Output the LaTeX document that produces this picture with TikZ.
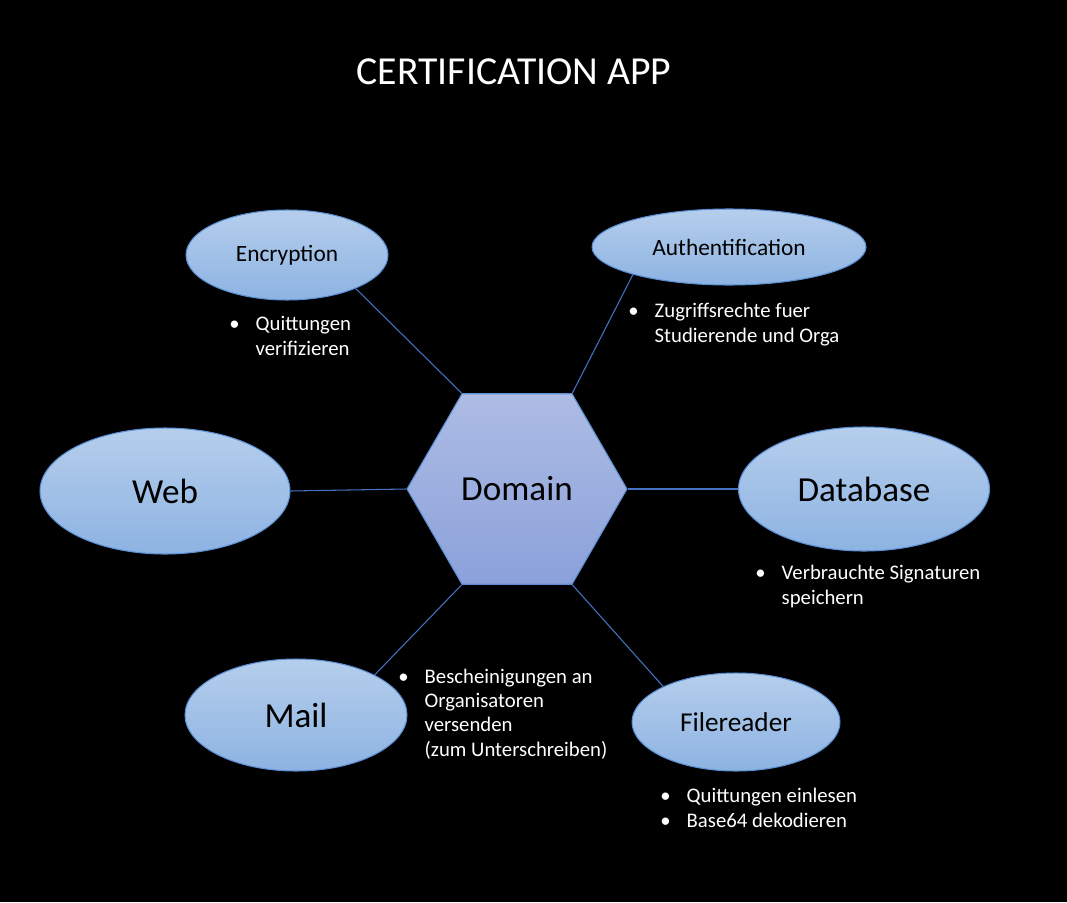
\documentclass[tikz,border=0pt]{standalone}
\usepackage{fontspec}
\setmainfont{Carlito}
\usetikzlibrary{shapes.geometric}
\definecolor{ovaltop}{HTML}{B5CEEC}
\definecolor{ovalbot}{HTML}{8DB3E2}
\definecolor{hextop}{HTML}{ADBCE4}
\definecolor{hexbot}{HTML}{8BA1DA}
\definecolor{rim}{HTML}{5B8FD4}
\definecolor{link}{HTML}{4472C4}
\newcommand{\bul}{\makebox[15pt][l]{\textbullet}}
\newcommand{\ind}{\hspace*{15pt}}

\begin{document}
\begin{tikzpicture}[x=0.02cm, y=-0.02cm,
  oval/.style={ellipse, draw=rim, line width=0.6pt, top color=ovaltop, bottom color=ovalbot, inner sep=0pt, text=black},
  note/.style={anchor=base west, inner sep=0pt, text=white, align=left, font=\fontsize{11.8}{13.8}\selectfont},
  link/.style={draw=link, line width=0.6pt}]
\fill[black] (0,0) rectangle (1067,902);
\node[text=white, font=\fontsize{22.6}{26}\selectfont, anchor=base] (title) at (514,85) {CERTIFICATION APP};

% centre
\node[regular polygon, regular polygon sides=6, minimum size=4.4cm, inner sep=0pt, draw=rim, line width=0.6pt, top color=hextop, bottom color=hexbot, font=\fontsize{20}{24}\selectfont] (domain) at (517,489) {Domain};

% outer parts
\node[oval, minimum width=4.04cm, minimum height=1.8cm, font=\fontsize{13.3}{16}\selectfont] (enc) at (287,255) {Encryption};
\node[oval, minimum width=5.48cm, minimum height=1.52cm, font=\fontsize{13.3}{16}\selectfont] (auth) at (729,247) {Authentification};
\node[oval, minimum width=5.0cm, minimum height=2.52cm, font=\fontsize{20}{24}\selectfont] (web) at (165,491) {Web};
\node[oval, minimum width=5.02cm, minimum height=2.48cm, font=\fontsize{20}{24}\selectfont] (db) at (864,489) {Database};
\node[oval, minimum width=4.44cm, minimum height=2.24cm, font=\fontsize{20}{24}\selectfont] (mail) at (296,715) {Mail};
\node[oval, minimum width=4.16cm, minimum height=1.96cm, font=\fontsize{15.5}{18}\selectfont] (file) at (736,722) {Filereader};

% connections
\draw[link] (domain.corner 2) -- (enc.-26);
\draw[link] (domain.corner 1) -- (auth.196);
\draw[link] (domain.corner 3) -- (web.east);
\draw[link] (domain.corner 6) -- (db.west);
\draw[link] (domain.corner 4) -- (mail.27);
\draw[link] (domain.corner 5) -- (file.154);

% notes (placed at the baseline of the last line)
\node[note] (encnote) at (229,355) {\bul Quittungen\\\ind verifizieren};
\node[note] (authnote) at (628,342) {\bul Zugriffsrechte fuer\\\ind Studierende und Orga};
\node[note] (dbnote) at (755,604) {\bul Verbrauchte Signaturen\\\ind speichern};
\node[note] (mailnote) at (398,756) {\bul Bescheinigungen an\\\ind Organisatoren\\\ind versenden\\\ind (zum Unterschreiben)};
\node[note] (filenote) at (660,827) {\bul Quittungen einlesen\\\bul Base64 dekodieren};
\end{tikzpicture}
\end{document}
